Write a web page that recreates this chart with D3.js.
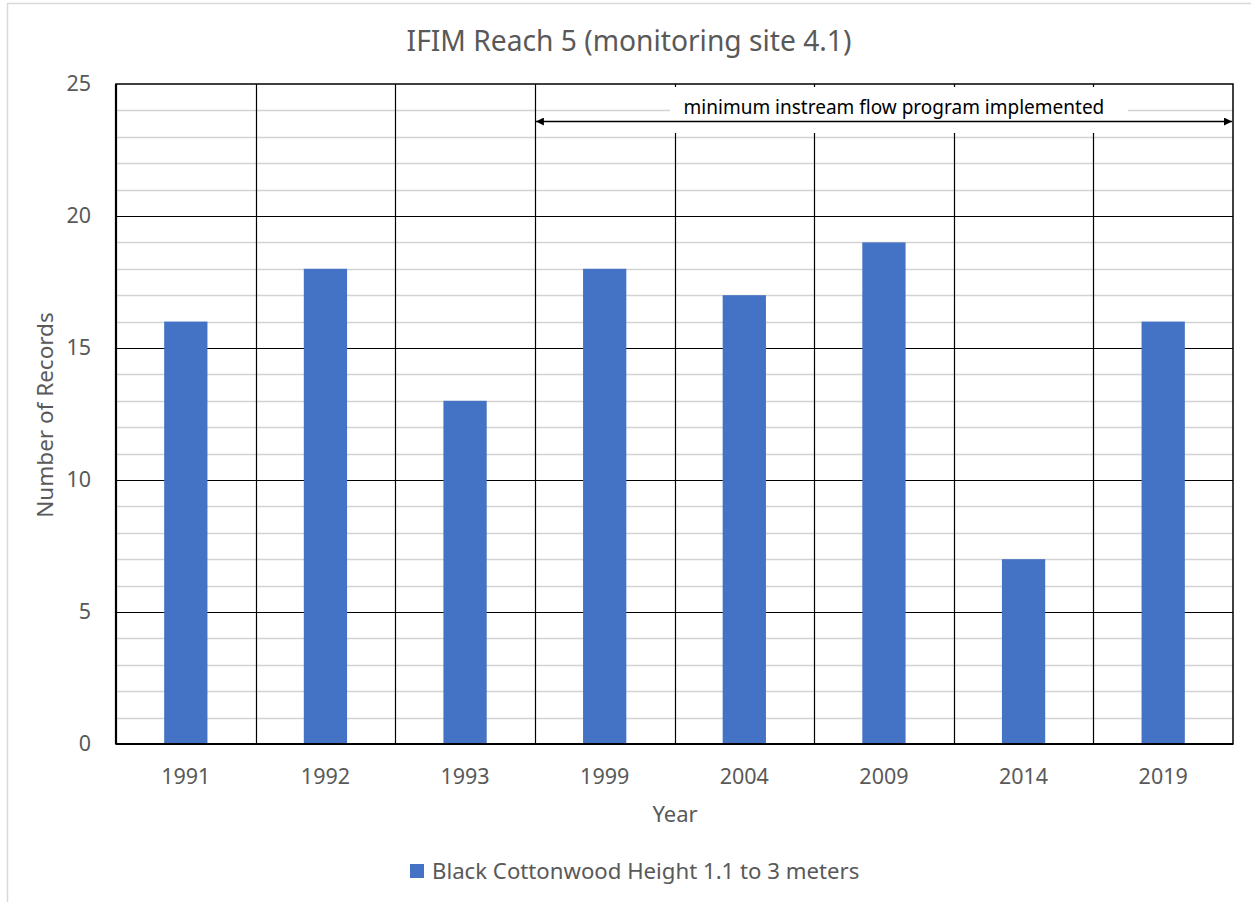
<!DOCTYPE html>
<html>
<head>
<meta charset="utf-8">
<script src="https://cdn.jsdelivr.net/npm/d3@7"></script>
<style>
  html, body { margin: 0; padding: 0; background: #fff; }
  svg { display: block; font-family: "Noto Sans", "Open Sans", sans-serif; }
</style>
</head>
<body>
<svg id="chart" width="1251" height="902"></svg>
<script>
// Survey years and record counts
const years = ["1991", "1992", "1993", "1999", "2004", "2009", "2014", "2019"];
const records = [16, 18, 13, 18, 17, 19, 7, 16];
const yTicks = [0, 5, 10, 15, 20, 25];
const minorTicks = d3.range(0, 26);

const titleText = "IFIM Reach 5 (monitoring site 4.1)";
const seriesName = "Black Cottonwood Height 1.1 to 3 meters";
const noteText = "minimum instream flow program implemented";
const noteStartYear = "1999";

const svg = d3.select("#chart");
const W = 1251, H = 902;
const margin = { left: 116, right: 1251 - 1233, top: 84, bottom: 902 - 744 };
const plotW = W - margin.left - margin.right;
const plotH = H - margin.top - margin.bottom;
const barColor = "#4472C4";
const textColor = "#595959";
const tickFont = 21.5;

// Outer chart frame
svg.append("rect")
  .attr("x", 7.5).attr("y", 3.5)
  .attr("width", 1300).attr("height", 1000)
  .attr("fill", "#fff").attr("stroke", "#d9d9d9").attr("stroke-width", 1.5);

const g = svg.append("g").attr("transform", `translate(${margin.left},${margin.top})`);

const x = d3.scaleBand().domain(years).range([0, plotW]).padding(0);
const y = d3.scaleLinear().domain([0, 25]).range([plotH, 0]);

// Minor horizontal gridlines
g.append("g").selectAll("line")
  .data(minorTicks.filter(d => d % 5 !== 0))
  .join("line")
  .attr("x1", 0).attr("x2", plotW)
  .attr("y1", d => Math.round(y(d)) + 0.5).attr("y2", d => Math.round(y(d)) + 0.5)
  .attr("stroke", "#d3d3d3").attr("stroke-width", 1.5);

// Major horizontal gridlines
g.append("g").selectAll("line")
  .data(yTicks.filter(d => d > 0 && d < 25))
  .join("line")
  .attr("x1", 0).attr("x2", plotW)
  .attr("y1", d => Math.round(y(d)) + 0.5).attr("y2", d => Math.round(y(d)) + 0.5)
  .attr("stroke", "#000").attr("stroke-width", 1.2);

// Vertical category separators
g.append("g").selectAll("line")
  .data(years.slice(1))
  .join("line")
  .attr("x1", d => Math.round(x(d)) + 0.5).attr("x2", d => Math.round(x(d)) + 0.5)
  .attr("y1", 0).attr("y2", plotH)
  .attr("stroke", "#000").attr("stroke-width", 1.2);

// Bars
const barW = x.bandwidth() * 0.31;
g.append("g").selectAll("rect")
  .data(years.map((yr, i) => ({ yr, v: records[i] })))
  .join("rect")
  .attr("x", d => x(d.yr) + (x.bandwidth() - barW) / 2)
  .attr("y", d => y(d.v))
  .attr("width", barW)
  .attr("height", d => y(0) - y(d.v))
  .attr("fill", barColor);

// Plot border
g.append("rect")
  .attr("x", 0).attr("y", 0).attr("width", plotW).attr("height", plotH)
  .attr("fill", "none").attr("stroke", "#000").attr("stroke-width", 1.5);
g.append("line").attr("x1", 0).attr("x2", 0).attr("y1", 0).attr("y2", plotH)
  .attr("stroke", "#000").attr("stroke-width", 2.2);
g.append("line").attr("x1", 0).attr("x2", plotW).attr("y1", plotH).attr("y2", plotH)
  .attr("stroke", "#000").attr("stroke-width", 2.2);

// Annotation: label box with a double-headed arrow
const noteX0 = x(noteStartYear);
const noteX1 = plotW;
const noteCx = (noteX0 + noteX1) / 2 + 10;
g.append("rect")
  .attr("x", 670 - margin.left).attr("y", 3)
  .attr("width", 458).attr("height", 46)
  .attr("fill", "#fff");
g.append("text")
  .attr("x", noteCx).attr("y", 30)
  .attr("text-anchor", "middle")
  .attr("font-size", 19).attr("fill", "#000")
  .text(noteText);

svg.append("defs").append("marker")
  .attr("id", "arrowhead")
  .attr("viewBox", "0 0 10 10")
  .attr("refX", 10).attr("refY", 5)
  .attr("markerWidth", 8).attr("markerHeight", 8)
  .attr("markerUnits", "userSpaceOnUse")
  .attr("orient", "auto-start-reverse")
  .append("path").attr("d", "M0,0 L10,5 L0,10 Z").attr("fill", "#000");

g.append("line")
  .attr("x1", noteX0 + 1).attr("x2", noteX1 - 1)
  .attr("y1", 37.5).attr("y2", 37.5)
  .attr("stroke", "#000").attr("stroke-width", 1.5)
  .attr("marker-start", "url(#arrowhead)")
  .attr("marker-end", "url(#arrowhead)");

// Y axis labels
const yAxis = d3.axisLeft(y).tickValues(yTicks).tickSize(0).tickPadding(25);
const ya = g.append("g").call(yAxis);
ya.select(".domain").remove();
ya.selectAll("text").attr("font-size", tickFont).attr("fill", textColor)
  .attr("font-family", "'Noto Sans', sans-serif");

// X axis labels
const xAxis = d3.axisBottom(x).tickSize(0).tickPadding(25);
const xa = g.append("g").attr("transform", `translate(0,${plotH})`).call(xAxis);
xa.select(".domain").remove();
xa.selectAll("text").attr("font-size", tickFont).attr("fill", textColor)
  .attr("font-family", "'Noto Sans', sans-serif");

// Title
svg.append("text")
  .attr("x", 629).attr("y", 51)
  .attr("text-anchor", "middle")
  .attr("font-size", 28.2).attr("fill", textColor)
  .text(titleText);

// Axis titles
svg.append("text")
  .attr("x", 675).attr("y", 822)
  .attr("text-anchor", "middle")
  .attr("font-size", 22).attr("fill", textColor)
  .text("Year");

svg.append("text")
  .attr("transform", `translate(53,415) rotate(-90)`)
  .attr("text-anchor", "middle")
  .attr("font-size", 22.5).attr("fill", textColor)
  .text("Number of Records");

// Legend
const legend = svg.append("g").attr("transform", "translate(410,864)");
legend.append("rect").attr("x", 0).attr("y", 0).attr("width", 14).attr("height", 14).attr("fill", barColor);
legend.append("text").attr("x", 22).attr("y", 15)
  .attr("font-size", 22.2).attr("fill", textColor)
  .text(seriesName);
</script>
</body>
</html>
